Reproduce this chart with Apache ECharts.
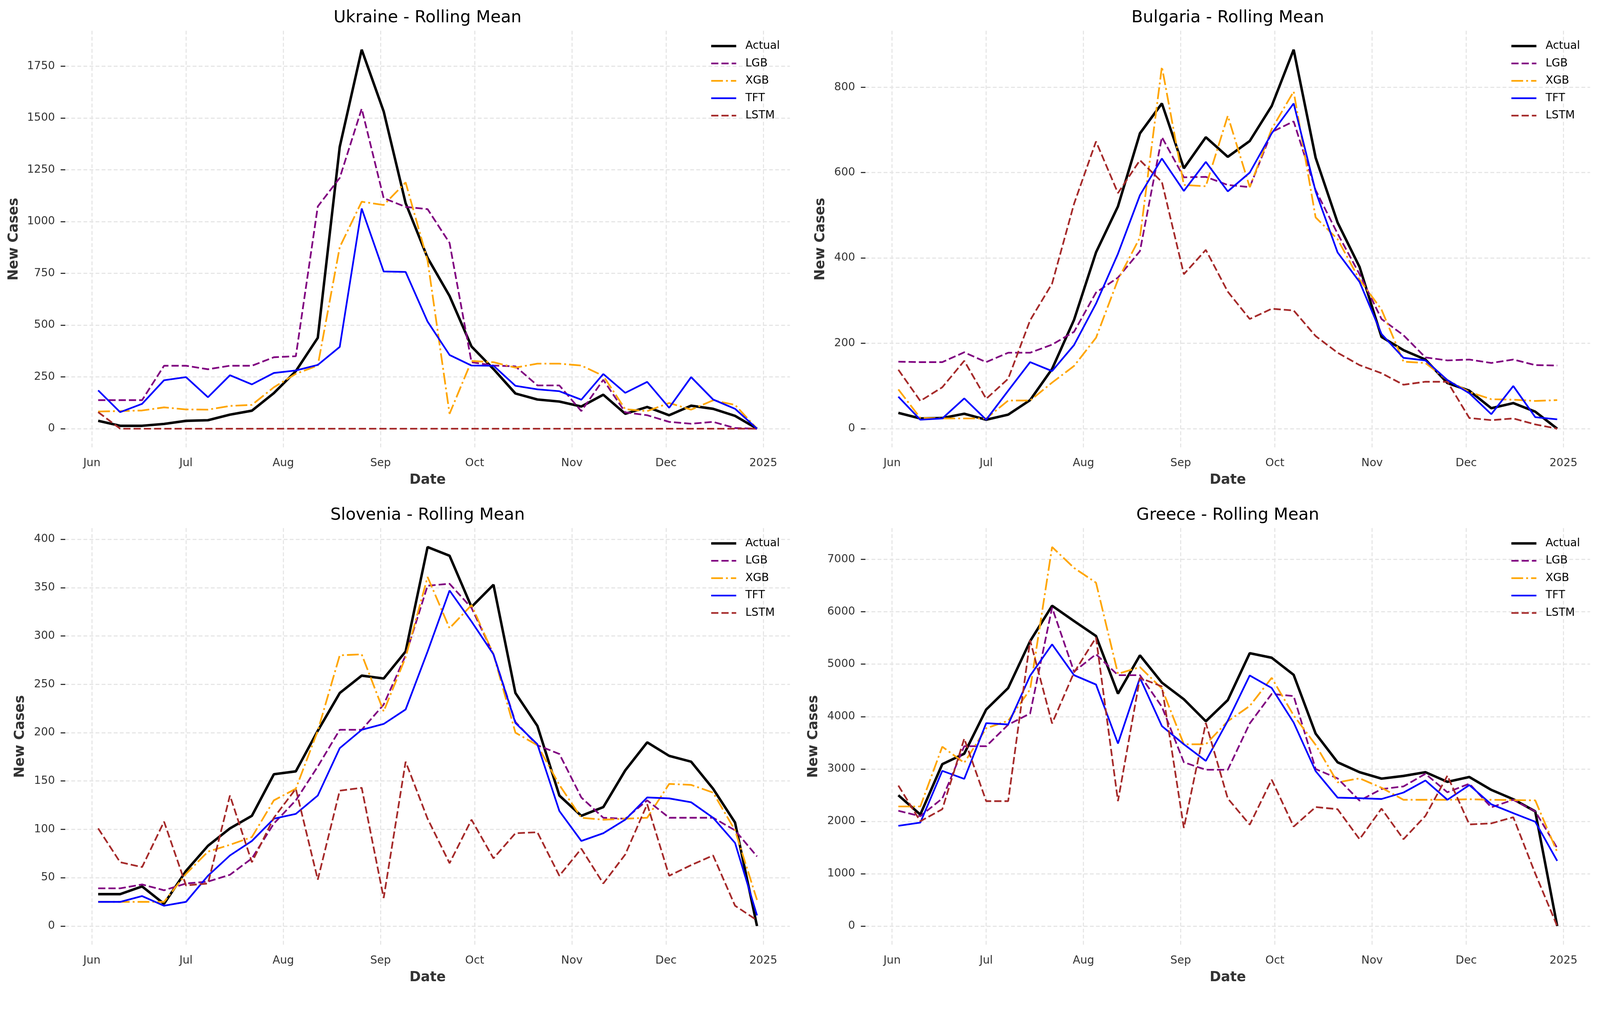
<!DOCTYPE html>
<html>
<head>
<meta charset="utf-8">
<script src="https://cdn.jsdelivr.net/npm/echarts@6/dist/echarts.min.js"></script>
<style>
html,body{margin:0;padding:0;background:#ffffff;overflow:hidden;}
#chart{width:100vw;height:100vh;}
</style>
</head>
<body>
<div id="chart"></div>
<script>
// ---------------- DATA ----------------
const dates = ['2024-06-03','2024-06-10','2024-06-17','2024-06-24','2024-07-01','2024-07-08','2024-07-15','2024-07-22','2024-07-29',
  '2024-08-05','2024-08-12','2024-08-19','2024-08-26','2024-09-02','2024-09-09','2024-09-16','2024-09-23','2024-09-30',
  '2024-10-07','2024-10-14','2024-10-21','2024-10-28','2024-11-04','2024-11-11','2024-11-18','2024-11-25',
  '2024-12-02','2024-12-09','2024-12-16','2024-12-23','2024-12-30'];

const monthTickDates = ['2024-06-01','2024-07-01','2024-08-01','2024-09-01','2024-10-01','2024-11-01','2024-12-01','2025-01-01'];
const monthTickLabels = ['Jun','Jul','Aug','Sep','Oct','Nov','Dec','2025'];

const modelNames = ['Actual','LGB','XGB','TFT','LSTM'];

const ukraineActual = [38,14,14,23,38,41,68,87,172,278,439,1361,1830,1532,1089,825,641,397,288,170,141,131,107,164,72,105,65,111,96,62,0];
const ukraineLGB    = [138,138,138,304,304,287,304,304,345,350,1073,1211,1545,1113,1071,1060,897,321,305,301,209,209,85,236,79,65,33,24,33,3,0];
const ukraineXGB    = [83,85,88,103,93,92,110,115,200,265,305,877,1096,1080,1189,812,72,327,321,295,314,314,305,255,94,85,124,92,137,115,0];
const ukraineTFT    = [185,80,120,234,249,152,258,214,269,281,308,395,1063,759,757,517,356,305,304,207,190,181,140,264,173,226,101,249,141,96,0];
const ukraineLSTM   = [80,0,0,0,0,0,0,0,0,0,0,0,0,0,0,0,0,0,0,0,0,0,0,0,0,0,0,0,0,0,0];
const ukraineTicks  = [0,250,500,750,1000,1250,1500,1750];

const bulgariaActual = [37,24,25,35,21,33,67,140,255,413,521,692,762,610,683,637,674,756,888,635,483,379,215,184,162,107,89,48,60,40,0];
const bulgariaLGB    = [157,156,156,179,156,178,178,197,227,319,354,416,683,589,590,571,566,695,720,559,457,362,257,219,167,160,162,154,162,149,148];
const bulgariaXGB    = [92,25,24,24,24,66,66,108,147,213,349,448,848,571,568,733,566,702,790,495,444,349,279,157,154,114,86,69,68,65,67];
const bulgariaTFT    = [75,21,24,71,21,89,156,135,196,293,410,547,633,557,625,556,600,692,762,556,413,344,222,166,160,114,83,34,100,27,22];
const bulgariaLSTM   = [138,65,97,159,70,117,254,340,527,673,552,629,578,362,419,321,257,281,277,217,178,149,130,103,110,110,25,20,24,10,0];
const bulgariaTicks  = [0,200,400,600,800];

const sloveniaActual = [33,33,41,23,57,83,101,114,157,160,202,241,259,256,284,392,383,330,353,241,207,135,114,123,161,190,176,170,142,107,0];
const sloveniaLGB    = [39,39,43,37,44,46,53,70,106,130,165,203,203,229,280,352,354,329,281,211,187,178,133,112,111,130,112,112,112,99,72];
const sloveniaXGB    = [25,25,25,25,54,77,84,92,130,142,202,280,281,222,278,361,308,332,281,200,187,146,112,110,111,112,147,146,138,99,27];
const sloveniaTFT    = [25,25,31,21,25,52,73,88,111,116,135,184,203,209,224,284,347,315,281,210,188,119,88,96,110,133,132,128,112,86,11];
const sloveniaLSTM   = [101,66,61,108,42,44,135,66,112,142,48,140,143,29,170,111,65,110,70,96,97,52,80,44,74,126,52,63,73,21,6];
const sloveniaTicks  = [0,50,100,150,200,250,300,350,400];

const greeceActual = [2498,2129,3091,3291,4135,4545,5440,6116,5824,5538,4437,5169,4647,4330,3910,4314,5210,5123,4796,3675,3127,2938,2815,2866,2938,2753,2846,2600,2421,2190,0];
const greeceLGB    = [2201,2098,2436,3434,3434,3844,4059,6080,4857,5190,4790,4790,4187,3127,2984,2984,3869,4432,4391,2999,2820,2395,2615,2666,2907,2554,2718,2267,2411,2190,1489];
const greeceXGB    = [2283,2283,3424,3117,3777,3920,4519,7237,6838,6556,4816,4944,4535,3470,3470,3910,4202,4739,4023,3460,2743,2820,2641,2411,2411,2411,2421,2411,2405,2400,1413];
const greeceTFT    = [1914,1976,2963,2810,3874,3849,4780,5379,4790,4611,3485,4739,3818,3470,3153,3920,4785,4545,3885,2958,2452,2441,2426,2549,2779,2411,2692,2324,2155,1991,1244];
const greeceLSTM   = [2682,2001,2231,3578,2385,2385,5456,3869,4842,5507,2385,4739,4575,1873,3879,2436,1935,2794,1899,2272,2231,1658,2242,1658,2103,2871,1940,1960,2078,1003,0];
const greeceTicks  = [0,1000,2000,3000,4000,5000,6000,7000];

// ---------------- BUILD ----------------
const panels = [
  {title:'Ukraine - Rolling Mean',  series:[ukraineActual,ukraineLGB,ukraineXGB,ukraineTFT,ukraineLSTM],       ticks:ukraineTicks},
  {title:'Bulgaria - Rolling Mean', series:[bulgariaActual,bulgariaLGB,bulgariaXGB,bulgariaTFT,bulgariaLSTM], ticks:bulgariaTicks},
  {title:'Slovenia - Rolling Mean', series:[sloveniaActual,sloveniaLGB,sloveniaXGB,sloveniaTFT,sloveniaLSTM], ticks:sloveniaTicks},
  {title:'Greece - Rolling Mean',   series:[greeceActual,greeceLGB,greeceXGB,greeceTFT,greeceLSTM],           ticks:greeceTicks}
];

const el = document.getElementById('chart');
const vw = el.clientWidth || window.innerWidth, vh = el.clientHeight || window.innerHeight;
const s = Math.min(vw / 4219, vh / 2618);
const S = v => v * s;

const layout = [
  {left:172,  top:81,   nameGap:117},
  {left:2282, top:81,   nameGap:100},
  {left:172,  top:1392, nameGap:100},
  {left:2282, top:1392, nameGap:119}
];
const PW = 1911, PH = 1099;

const lineStyles = {
  Actual:{color:'#000000', width:6.6, type:'solid'},
  LGB:   {color:'#800080', width:4.5, type:[19,8]},
  XGB:   {color:'#FFA500', width:4.5, type:[31,8,5,8]},
  TFT:   {color:'#0000FF', width:4.5, type:'solid'},
  LSTM:  {color:'#A52A2A', width:4.5, type:[19,8]}
};
const scaleType = t => Array.isArray(t) ? t.map(S) : t;

const FONT = "'DejaVu Sans', sans-serif";
const toTs = d => new Date(d + 'T00:00:00Z').getTime();
const ts = dates.map(toTs);
const tickTs = monthTickDates.map(toTs);
const labelMap = {};
tickTs.forEach((t,i) => { labelMap[t] = monthTickLabels[i]; });
const span = ts[ts.length-1] - ts[0];
const xMin = ts[0] - 0.05*span, xMax = ts[ts.length-1] + 0.05*span;

const grid = [], xAxis = [], yAxis = [], series = [], title = [], legend = [];
const gridLineStyle = {color:'#e6e6e6', width:S(3), type:[S(10),S(6)]};

panels.forEach((p, k) => {
  const L = layout[k];
  grid.push({left:S(L.left), top:S(L.top), width:S(PW), height:S(PH), containLabel:false, outerBoundsMode:'none'});
  title.push({
    text:p.title, left:S(L.left + PW/2), top:S(L.top - 56), textAlign:'center', padding:0,
    textStyle:{fontFamily:FONT, fontSize:S(44), fontWeight:'normal', color:'#000', lineHeight:S(44)}
  });
  xAxis.push({
    type:'value', gridIndex:k, min:xMin, max:xMax,
    name:'Date', nameLocation:'middle', nameGap:S(68),
    nameTextStyle:{fontFamily:FONT, fontSize:S(36), fontWeight:'bold', color:'#333'},
    axisLine:{show:false},
    axisTick:{show:false, customValues:tickTs},
    axisLabel:{customValues:tickTs, margin:S(27), fontFamily:FONT, fontSize:S(29), color:'#333',
      formatter: v => labelMap[v] !== undefined ? labelMap[v] : ''},
    splitLine:{show:true, lineStyle:gridLineStyle}
  });
  yAxis.push({
    type:'value', gridIndex:k,
    min: v => v.min - 0.05*(v.max - v.min),
    max: v => v.max + 0.05*(v.max - v.min),
    name:'New Cases', nameLocation:'middle', nameGap:S(L.nameGap), nameRotate:90,
    nameTextStyle:{fontFamily:FONT, fontSize:S(36), fontWeight:'bold', color:'#333'},
    axisLine:{show:false},
    axisTick:{show:true, length:S(12), customValues:p.ticks, lineStyle:{color:'#333', width:S(3)}},
    axisLabel:{customValues:p.ticks, margin:S(27), fontFamily:FONT, fontSize:S(29), color:'#333',
      formatter: v => String(v)},
    splitLine:{show:true, lineStyle:gridLineStyle}
  });
  modelNames.forEach((m, j) => {
    const st = lineStyles[m];
    series.push({
      type:'line', name:m, xAxisIndex:k, yAxisIndex:k,
      data: ts.map((t,i) => [t, p.series[j][i]]),
      symbol:'none', showSymbol:false, smooth:false, animation:false,
      lineStyle:{color:st.color, width:S(st.width), type:scaleType(st.type)},
      itemStyle:{color:st.color},
      z: 2 + j
    });
  });
  legend.push({
    orient:'vertical', left:S(L.left + 1700), top:S(L.top + 26), padding:0,
    itemWidth:S(66), itemHeight:S(28), itemGap:S(17), selectedMode:false,
    textStyle:{fontFamily:FONT, fontSize:S(29), color:'#000', padding:[0,0,0,S(19)]},
    data: modelNames.map(m => ({
      name:m,
      itemStyle:{color:'rgba(0,0,0,0)', borderWidth:0, opacity:0},
      lineStyle:{color:lineStyles[m].color, width:S(lineStyles[m].width), type:scaleType(lineStyles[m].type)}
    }))
  });
});

const chart = echarts.init(el, null, {renderer:'canvas'});
chart.setOption({
  backgroundColor:'#ffffff',
  animation:false,
  title, grid, xAxis, yAxis, series, legend
});
</script>
</body>
</html>
